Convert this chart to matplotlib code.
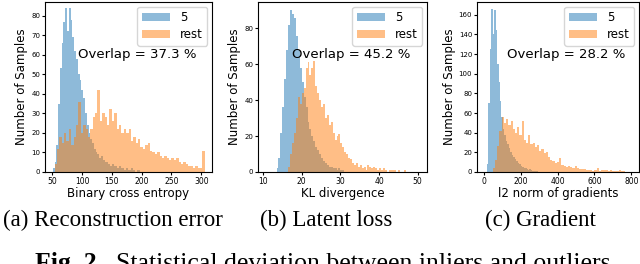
import numpy as np
import matplotlib.pyplot as plt

# ---- data (bin start, bin width, counts) ----
# (a) reconstruction error
rec_in_start, rec_in_width = 51, 3
rec_in_counts = [2, 5, 14, 35, 53, 66, 77, 84, 72, 84, 78, 69, 62, 58, 50, 47, 42, 38,
                 30, 24, 20, 17, 15, 12, 10, 9, 7, 8, 6, 5, 5, 4, 3, 4, 3, 3, 2, 3, 2,
                 2, 1, 2, 1, 1, 2, 1, 0, 1, 1]
rec_out_start, rec_out_width = 54, 4
rec_out_counts = [4, 12, 18, 15, 20, 16, 22, 14, 18, 24, 36, 20, 24, 22, 18, 22, 28, 30,
                  42, 26, 30, 28, 24, 32, 26, 30, 22, 24, 20, 22, 20, 22, 16, 18, 15, 17,
                  13, 12, 14, 15, 11, 10, 9, 10, 8, 7, 8, 7, 6, 7, 6, 7, 5, 4, 5, 4, 3,
                  3, 2, 3, 2, 2, 11]

# (b) latent loss
kl_in_start, kl_in_width = 13.5, 0.5
kl_in_counts = [2, 8, 22, 36, 52, 68, 82, 90, 88, 86, 76, 68, 58, 50, 42, 36, 28, 24, 20,
                17, 14, 12, 10, 8, 6, 5, 4, 3, 3, 2, 2, 1, 2, 1, 1]
kl_out_start, kl_out_width = 16.5, 0.5
kl_out_counts = [3, 10, 16, 22, 30, 42, 38, 44, 47, 58, 61, 54, 58, 62, 48, 44, 40, 36,
                 38, 30, 32, 26, 28, 22, 18, 20, 21, 16, 14, 11, 10, 8, 7, 5, 4, 5, 3, 4,
                 2, 3, 1, 4, 3, 2, 3, 2, 1, 2, 1, 2, 1, 0, 1, 1, 1, 1, 0, 1, 0, 0, 1, 0]

# (c) gradient
gr_in_start, gr_in_width = 15, 8
gr_in_counts = [8, 70, 125, 166, 140, 165, 145, 110, 92, 72, 56, 44, 38, 32, 28, 24, 20,
                17, 15, 13, 11, 9, 8, 6, 5, 4, 4, 3, 2, 3, 2, 1, 1, 1, 1]
gr_out_start, gr_out_width = 48, 12
gr_out_counts = [4, 12, 26, 42, 56, 50, 54, 48, 52, 44, 40, 46, 38, 52, 33, 30, 38, 28,
                 30, 25, 27, 21, 23, 19, 20, 15, 12, 11, 9, 10, 14, 7, 6, 5, 6, 5, 4, 6,
                 4, 3, 3, 3, 2, 2, 2, 1, 2, 4, 1, 2, 2, 2, 1, 2, 1, 1, 1, 2, 1, 1]

panels = [
    dict(inl=(rec_in_start, rec_in_width, rec_in_counts),
         out=(rec_out_start, rec_out_width, rec_out_counts),
         xlabel="Binary cross entropy", overlap="Overlap = 37.3 %",
         xlim=(38, 318), ylim=(0, 87), xticks=[50, 100, 150, 200, 250, 300],
         yticks=range(0, 81, 10)),
    dict(inl=(kl_in_start, kl_in_width, kl_in_counts),
         out=(kl_out_start, kl_out_width, kl_out_counts),
         xlabel="KL divergence", overlap="Overlap = 45.2 %",
         xlim=(8.7, 52.4), ylim=(0, 94.7), xticks=[10, 20, 30, 40, 50],
         yticks=[0, 20, 40, 60, 80]),
    dict(inl=(gr_in_start, gr_in_width, gr_in_counts),
         out=(gr_out_start, gr_out_width, gr_out_counts),
         xlabel="l2 norm of gradients", overlap="Overlap = 28.2 %",
         xlim=(-38, 842), ylim=(0, 173), xticks=[0, 200, 400, 600, 800],
         yticks=range(0, 161, 20)),
]
subcaptions = ["(a) Reconstruction error", "(b) Latent loss", "(c) Gradient"]

fig = plt.figure(figsize=(6.4, 2.64), dpi=100)
lefts = [45, 258, 477]
rights = [212, 427, 639]

for p, l, r in zip(panels, lefts, rights):
    ax = fig.add_axes([l / 640, 1 - 172 / 264, (r - l) / 640, 170 / 264])
    for key, col, lab in [("inl", "C0", "5"), ("out", "C1", "rest")]:
        start, width, counts = p[key]
        edges = start + width * np.arange(len(counts) + 1)
        ax.stairs(counts, edges, fill=True, color=col, alpha=0.5, label=lab)
    ax.set_xlim(*p["xlim"])
    ax.set_ylim(*p["ylim"])
    ax.set_xticks(p["xticks"])
    ax.set_yticks(list(p["yticks"]))
    ax.tick_params(axis="x", labelsize=5.5, length=2, pad=1.5)
    ax.tick_params(axis="y", labelsize=5, length=2, pad=1.5)
    ax.set_xlabel(p["xlabel"], fontsize=8.5, labelpad=1)
    ax.set_ylabel("Number of Samples", fontsize=8.5, labelpad=2)
    ax.text(0.55, 0.69, p["overlap"], transform=ax.transAxes, fontsize=9.5,
            ha="center", va="center")
    ax.legend(loc="upper right", fontsize=8.5, handlelength=2.4,
              borderaxespad=0.4, labelspacing=0.3)

# captions below the panels (the figure caption is cut by the bottom edge, as in the scan)
cap = fig.add_axes([0, 0, 1, 1])
cap.axis("off")
cap.set_xlim(0, 640)
cap.set_ylim(264, 0)
serif = "Liberation Serif"
for txt, x in zip(subcaptions, [3, 260, 485]):
    cap.text(x, 226, txt, fontsize=16.5, family=serif, ha="left", va="baseline")
t1 = cap.text(35, 270, "Fig. 2.", fontsize=18.5, family=serif, weight="bold",
              ha="left", va="baseline", clip_on=False)
cap.annotate("  Statistical deviation between inliers and outliers", xy=(1, 0),
             xycoords=t1, fontsize=18.5, family=serif, ha="left", va="bottom",
             annotation_clip=False)

fig.savefig("out.png", dpi=100)
